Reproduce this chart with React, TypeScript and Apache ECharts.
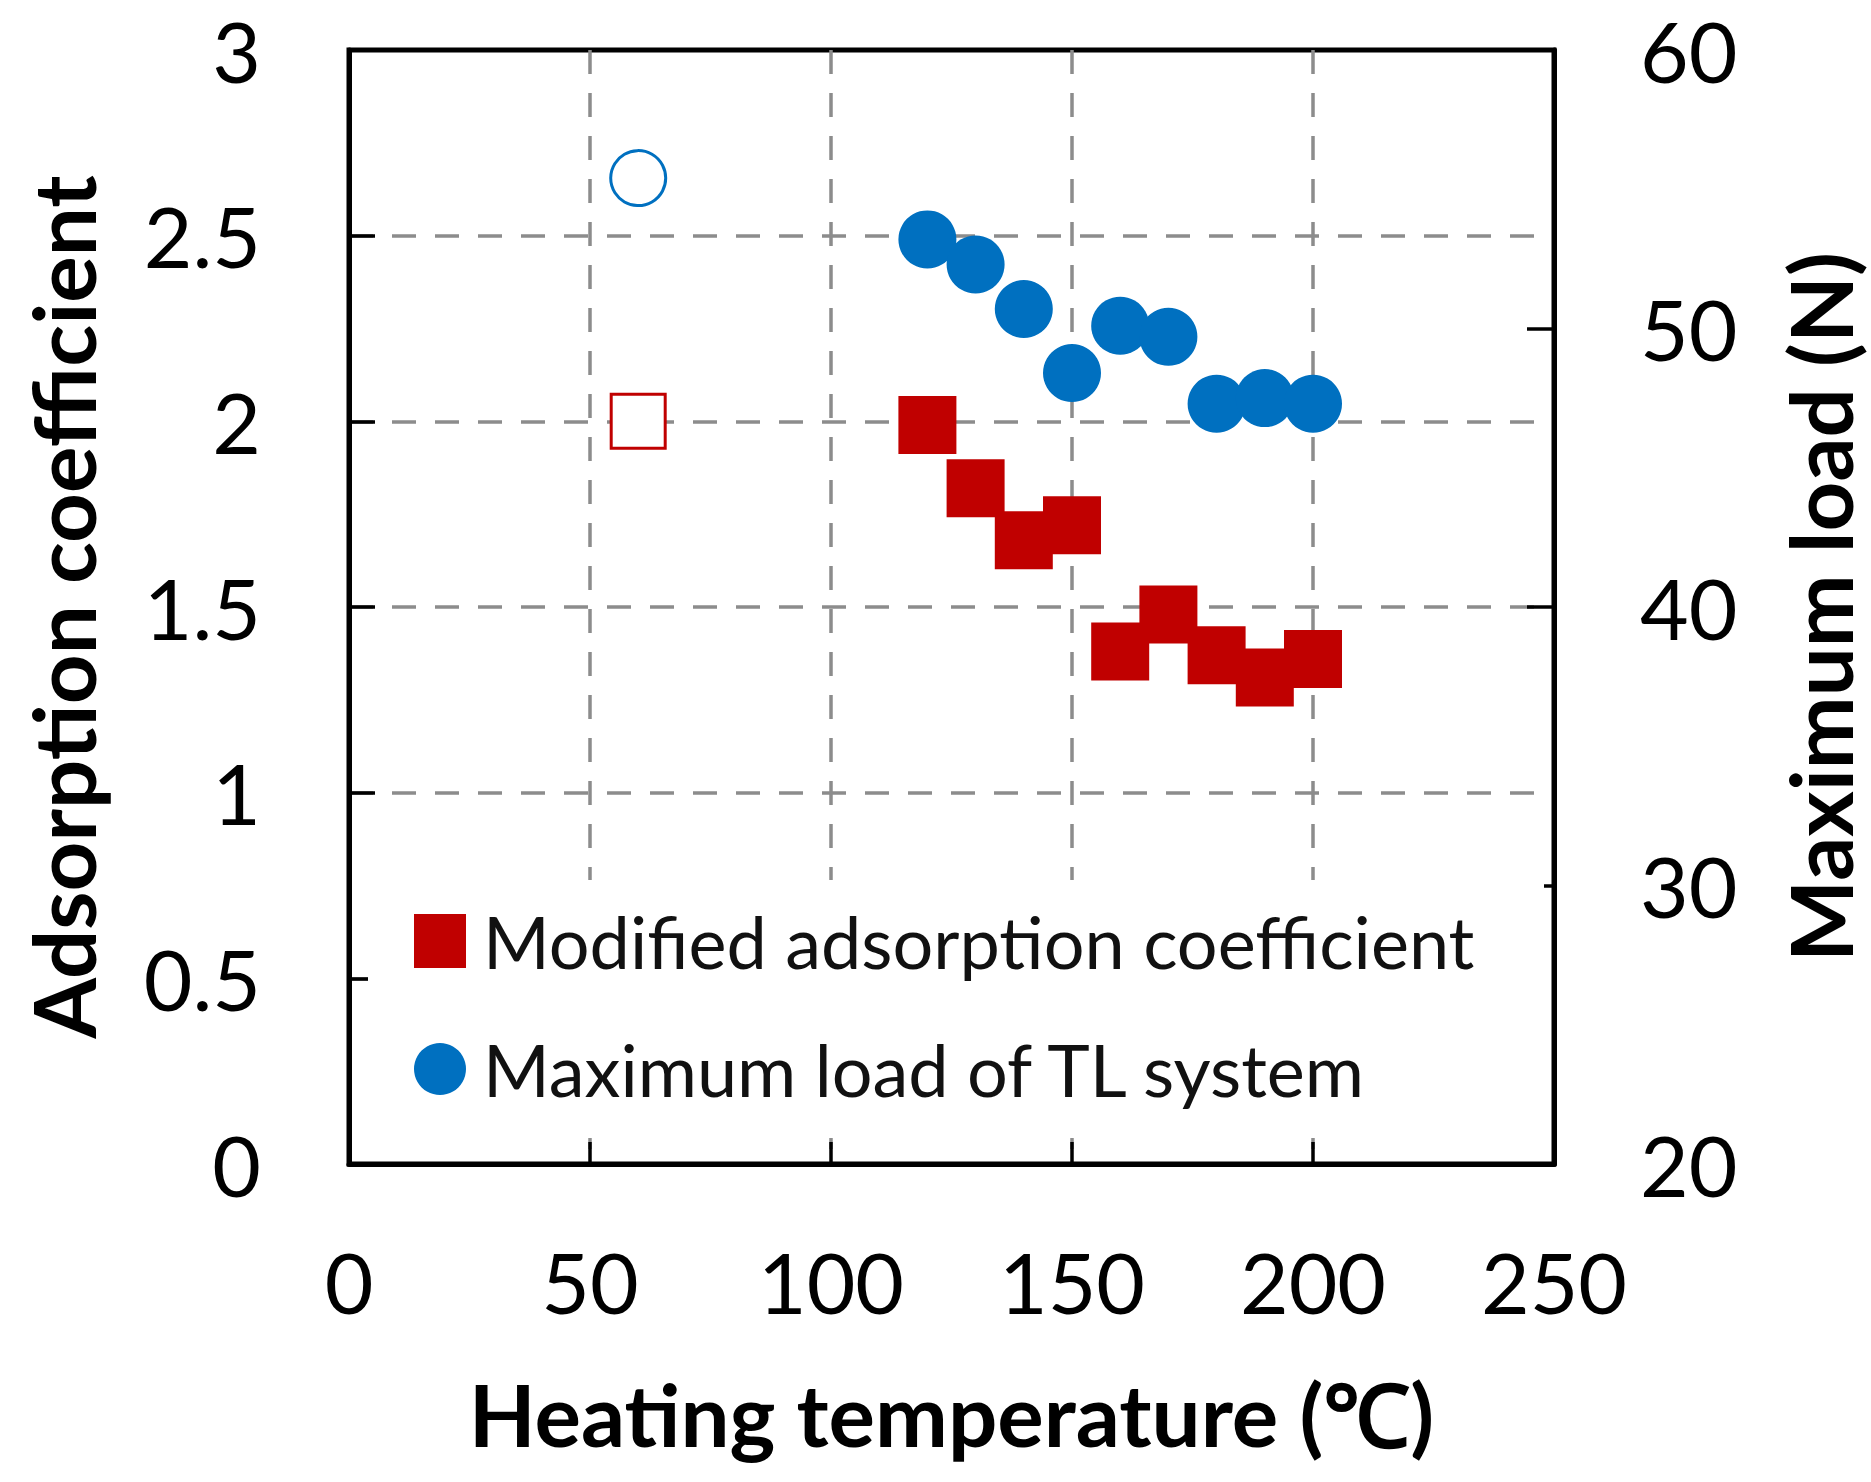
import React, { useEffect, useRef } from "react";
import * as echarts from "echarts";

// Heating temperature (°C)
const temps = [120, 130, 140, 150, 160, 170, 180, 190, 200];
// Modified adsorption coefficient (left axis)
const modifiedCoef = [1.99, 1.82, 1.68, 1.72, 1.38, 1.48, 1.37, 1.31, 1.36];
// Maximum load of TL system, N (right axis)
const maxLoad = [53.2, 52.3, 50.7, 48.4, 50.1, 49.7, 47.3, 47.5, 47.3];
// Reference (unheated) points drawn as open markers
const refTemp = [60];
const refCoef = [2.0];
const refLoad = [55.4];

const seriesNames = ["Modified adsorption coefficient", "Maximum load of TL system"];
const axisNames = ["Heating temperature (℃)", "Adsorption coefficient", "Maximum load (N)"];

const RED = "#C00000";
const BLUE = "#0070C0";
const GRID_GREY = "#8C8C8C";
const FONT = "Lato";

export default function App() {
  const ref = useRef<HTMLDivElement>(null);

  useEffect(() => {
    document.body.style.margin = "0";
    if (!ref.current) return;
    const chart = echarts.init(ref.current, undefined, { renderer: "svg" });

    const pair = (xs: number[], ys: number[]) => xs.map((x, i) => [x, ys[i]]);
    const splitLine = {
      show: true,
      showMinLine: false,
      showMaxLine: false,
      lineStyle: { color: GRID_GREY, width: 3.5, type: [24, 19] as any },
    };
    const axisLabel = { color: "#000", fontSize: 84, fontFamily: FONT };
    const nameStyle = { color: "#000", fontSize: 87, fontWeight: "bold" as const, fontFamily: FONT };

    chart.setOption({
      animation: false,
      backgroundColor: "#fff",
      textStyle: { fontFamily: FONT },
      grid: {
        left: 349,
        right: 312,
        top: 50,
        bottom: 318,
        show: true,
        borderColor: "#000",
        borderWidth: 5,
        backgroundColor: "transparent",
      },
      xAxis: {
        type: "value",
        min: 0,
        max: 250,
        interval: 50,
        name: axisNames[0],
        nameLocation: "middle",
        nameGap: 206,
        nameTextStyle: nameStyle,
        axisLine: { show: true, lineStyle: { color: "#000", width: 5 } },
        axisTick: { show: true, inside: true, length: 22, lineStyle: { color: "#000", width: 3.5 } },
        axisLabel: { ...axisLabel, margin: 75 },
        splitLine,
      },
      yAxis: [
        {
          type: "value",
          min: 0,
          max: 3,
          interval: 0.5,
          position: "left",
          name: axisNames[1],
          nameLocation: "middle",
          nameRotate: 90,
          nameGap: 243,
          nameTextStyle: nameStyle,
          axisLine: { show: true, lineStyle: { color: "#000", width: 5 } },
          axisTick: { show: true, inside: true, length: 26, lineStyle: { color: "#000", width: 3.5 } },
          axisLabel: { ...axisLabel, margin: 88 },
          splitLine,
        },
        {
          type: "value",
          min: 20,
          max: 60,
          interval: 10,
          position: "right",
          name: axisNames[2],
          nameLocation: "middle",
          nameRotate: 90,
          nameGap: 222,
          nameTextStyle: nameStyle,
          axisLine: { show: true, lineStyle: { color: "#000", width: 5 } },
          axisTick: { show: true, inside: true, length: 27, lineStyle: { color: "#000", width: 3.5 } },
          axisLabel: { ...axisLabel, margin: 86 },
          splitLine: { show: false },
        },
      ],
      legend: {
        data: [
          { name: seriesNames[0], icon: "rect" },
          { name: seriesNames[1], icon: "circle" },
        ],
        orient: "vertical",
        left: 414,
        top: 905,
        padding: 0,
        itemWidth: 52,
        itemHeight: 54,
        itemGap: 56,
        textStyle: { color: "#111", fontSize: 72, fontFamily: FONT, padding: [0, 0, 0, 12] },
        selectedMode: false,
      },
      graphic: [
        {
          type: "rect",
          z: 1,
          shape: { x: 368, y: 880, width: 1176, height: 258 },
          style: { fill: "#fff" },
          silent: true,
        },
      ],
      series: [
        {
          name: seriesNames[0],
          type: "scatter",
          yAxisIndex: 0,
          symbol: "rect",
          symbolSize: 58,
          itemStyle: { color: RED, opacity: 1 },
          data: pair(temps, modifiedCoef),
          z: 3,
        },
        {
          name: seriesNames[1],
          type: "scatter",
          yAxisIndex: 1,
          symbol: "circle",
          symbolSize: 58,
          itemStyle: { color: BLUE, opacity: 1 },
          data: pair(temps, maxLoad),
          z: 3,
        },
        {
          name: "ref-coef",
          type: "scatter",
          yAxisIndex: 0,
          symbol: "rect",
          symbolSize: 54,
          itemStyle: { color: "#fff", borderColor: RED, borderWidth: 3, opacity: 1 },
          data: pair(refTemp, refCoef),
          z: 3,
        },
        {
          name: "ref-load",
          type: "scatter",
          yAxisIndex: 1,
          symbol: "circle",
          symbolSize: 55,
          itemStyle: { color: "#fff", borderColor: BLUE, borderWidth: 3, opacity: 1 },
          data: pair(refTemp, refLoad),
          z: 3,
        },
      ],
    });

    return () => chart.dispose();
  }, []);

  return <div ref={ref} style={{ width: 1871, height: 1482 }} />;
}
